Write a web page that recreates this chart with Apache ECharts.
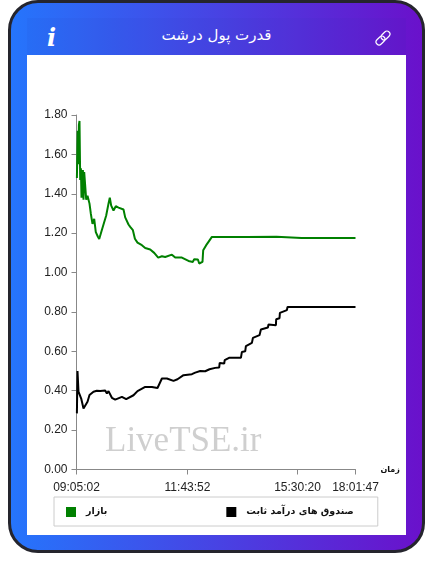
<!DOCTYPE html>
<html lang="fa">
<head>
<meta charset="utf-8">
<style>
    html, body { margin: 0; padding: 0; width: 433px; height: 574px; background: #fff; overflow: hidden; }
    #frame {
        position: absolute; left: 8px; top: 0; width: 411px; height: 547px;
        border: 3px solid #25252d; border-radius: 30px;
        background: linear-gradient(90deg, #2575fc, #6a11cb);
    }
    #header { position: absolute; left: 27px; top: 18px; width: 379px; height: 37px; background: rgba(30, 50, 170, 0.06); }
    #panel { position: absolute; left: 27px; top: 55px; width: 379px; height: 480px; background: #fff; }
    #title {
        position: absolute; left: 27px; top: 26px; width: 379px; text-align: center;
        color: #fff; font: 15px "DejaVu Sans", sans-serif; direction: rtl;
    }
    #info { position: absolute; left: 47px; top: 23px; color: #fff; font: italic bold 24px "DejaVu Serif", serif; }
    #link { position: absolute; left: 374px; top: 29px; }
    #chart { position: absolute; left: 0; top: 0; width: 433px; height: 574px; }
</style>
</head>
<body>
<div id="frame"></div>
<div id="header"></div>
<div id="panel"></div>
<div id="title">قدرت پول درشت</div>
<div id="info">i</div>
<svg id="link" width="18" height="18" viewBox="0 0 18 18" fill="none" stroke="#fff" stroke-width="1.2">
    <rect x="8.5" y="1.5" width="6" height="10" rx="3" transform="rotate(45 11.5 6.5)"/>
    <rect x="3.5" y="6.5" width="6" height="10" rx="3" transform="rotate(45 6.5 11.5)"/>
</svg>
<div id="chart"></div>
<script src="https://cdn.jsdelivr.net/npm/echarts@6/dist/echarts.min.js"></script>
<script>
const marketName = 'بازار';
const fundName = 'صندوق های درآمد ثابت';
const xAxisName = 'زمان';
const watermark = 'LiveTSE.ir';

// sample position along the time axis and value
const marketX = [0.4, 1.2, 1.8, 2.4, 3.0, 3.7, 4.4, 5, 6.4, 7, 7.7, 9.7, 11, 12, 13, 14.3, 16, 17.7, 19.3, 21.3, 22.7, 24.7, 27, 29.7, 32, 33.3, 34.7, 37, 39.3, 42, 47, 48.7, 52, 53.7, 56.4, 58.4, 61, 65.4, 68.7, 73.7, 77.7, 81.7, 85.4, 88.7, 95.4, 98.7, 105.4, 106.4, 112, 116.4, 117.7, 121.4, 122.7, 126, 126.7, 129.7, 132, 135.4, 143.7, 170, 200, 225, 250, 279];
const marketValues = [1.48, 1.72, 1.55, 1.75, 1.77, 1.47, 1.53, 1.38, 1.52, 1.37, 1.51, 1.37, 1.39, 1.40, 1.35, 1.30, 1.247, 1.273, 1.205, 1.183, 1.17, 1.205, 1.244, 1.29, 1.35, 1.38, 1.34, 1.315, 1.337, 1.33, 1.32, 1.28, 1.244, 1.232, 1.215, 1.172, 1.152, 1.139, 1.125, 1.117, 1.10, 1.076, 1.083, 1.079, 1.091, 1.076, 1.076, 1.066, 1.059, 1.054, 1.068, 1.066, 1.046, 1.054, 1.113, 1.139, 1.156, 1.181, 1.181, 1.18, 1.182, 1.176, 1.175, 1.175];
const fundX = [0.4, 1, 2, 4.7, 7, 8.7, 11, 13, 14.7, 17, 20.3, 23.7, 28.7, 30.4, 32, 35.4, 38.7, 45.4, 49.7, 57, 61, 68.7, 75.4, 81, 85.4, 90.4, 97, 101, 107, 115.4, 118.7, 120.4, 123.7, 128.7, 133, 138.7, 142.7, 143.2, 147.7, 148.2, 153, 164.4, 165.4, 168.7, 169.4, 175.4, 176.4, 183, 184.4, 191.4, 192, 199.4, 199.7, 203, 203.4, 210.4, 211, 279];
const fundValues = [0.285, 0.50, 0.395, 0.36, 0.31, 0.305, 0.344, 0.378, 0.37, 0.395, 0.40, 0.398, 0.401, 0.386, 0.398, 0.364, 0.355, 0.369, 0.357, 0.377, 0.398, 0.419, 0.419, 0.414, 0.462, 0.462, 0.45, 0.458, 0.479, 0.484, 0.492, 0.484, 0.50, 0.499, 0.509, 0.516, 0.518, 0.541, 0.538, 0.555, 0.568, 0.567, 0.597, 0.60, 0.627, 0.643, 0.668, 0.682, 0.711, 0.721, 0.736, 0.733, 0.763, 0.768, 0.795, 0.809, 0.825, 0.825];
const timeTicks = [0, 111, 221, 279];
const timeLabels = ['09:05:02', '11:43:52', '15:30:20', '18:01:47'];

const zip = (xs, ys) => xs.map((x, i) => [x, ys[i]]);

const chart = echarts.init(document.getElementById('chart'));

chart.setOption({
    backgroundColor: 'transparent',
    animation: false,
    textStyle: { fontFamily: '"Liberation Sans", Arial, sans-serif' },
    grid: { left: 76.5, top: 115, width: 279, height: 354.5, containLabel: false },
    xAxis: {
        type: 'value',
        min: 0,
        max: 279,
        name: xAxisName,
        nameLocation: 'end',
        nameGap: 25,
        nameTextStyle: { color: '#111', fontSize: 8, fontWeight: 'bold', fontFamily: '"DejaVu Sans", sans-serif', verticalAlign: 'middle', padding: [0, 0, 3, 0] },
        axisLine: { lineStyle: { color: '#888', width: 1 } },
        axisTick: { length: 5, lineStyle: { color: '#888' }, customValues: timeTicks },
        axisLabel: {
            color: '#222',
            fontSize: 12,
            margin: 12,
            customValues: timeTicks,
            hideOverlap: false,
            showMinLabel: true,
            showMaxLabel: true,
            formatter: (v) => timeLabels[timeTicks.indexOf(v)]
        },
        splitLine: { show: false }
    },
    yAxis: {
        type: 'value',
        min: 0,
        max: 1.8,
        interval: 0.2,
        axisLine: { show: true, lineStyle: { color: '#888', width: 1 } },
        axisTick: { show: true, length: 5, lineStyle: { color: '#888' } },
        axisLabel: { color: '#222', fontSize: 12, margin: 9, formatter: (v) => v.toFixed(2) },
        splitLine: { show: false }
    },
    legend: {
        left: 54,
        top: 497,
        orient: 'horizontal',
        padding: [10, 24, 9, 12],
        itemGap: 119,
        itemWidth: 10,
        itemHeight: 10,
        borderColor: '#ccc',
        borderWidth: 1,
        data: [
            { name: marketName, icon: 'rect' },
            { name: fundName, icon: 'rect' }
        ],
        textStyle: { color: '#111', fontSize: 9.5, fontWeight: 'bold', fontFamily: '"DejaVu Sans", sans-serif', padding: [2, 0, 0, 5] }
    },
    graphic: [{
        type: 'text',
        left: 105,
        top: 424,
        silent: true,
        z: 0,
        style: { text: watermark, fill: '#cfcfcf', font: '35px "Liberation Serif", serif' }
    }],
    series: [
        {
            name: marketName,
            type: 'line',
            symbol: 'none',
            z: 3,
            itemStyle: { color: '#008000' },
            lineStyle: { color: '#008000', width: 2 },
            data: zip(marketX, marketValues)
        },
        {
            name: fundName,
            type: 'line',
            symbol: 'none',
            z: 3,
            itemStyle: { color: '#000' },
            lineStyle: { color: '#000', width: 2 },
            data: zip(fundX, fundValues)
        }
    ]
});
</script>
</body>
</html>
